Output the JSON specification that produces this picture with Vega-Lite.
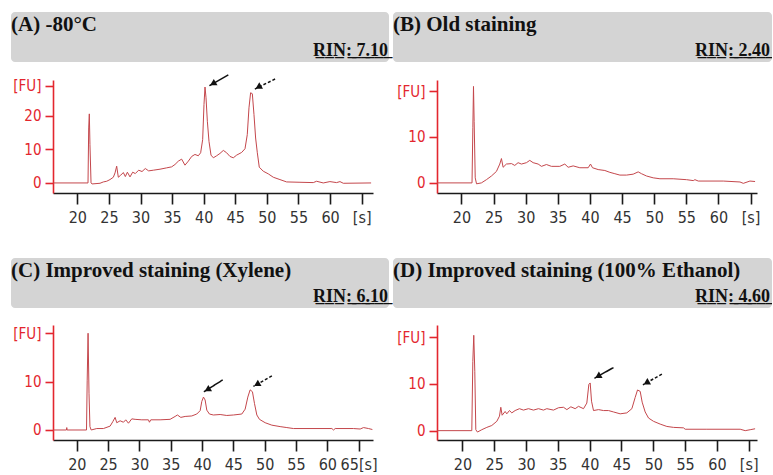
{
  "$schema": "https://vega.github.io/schema/vega-lite/v6.json",
  "padding": {"left": 11, "top": 12, "right": 0, "bottom": 0},
  "background": "white",
  "config": {
    "view": {"stroke": null},
    "axisX": {"title": null, "grid": false, "domainColor": "#1a1a1a", "tickColor": "#1a1a1a", "domainWidth": 1.6, "tickWidth": 1.6, "tickSize": 11, "labelPadding": 5, "labelFont": "DejaVu Sans Condensed, DejaVu Sans, sans-serif", "labelFontSize": 16, "labelColor": "#333333", "labelOverlap": false, "labelFlush": false},
    "axisY": {"title": null, "grid": false, "domainColor": "#e3262e", "tickColor": "#e3262e", "labelColor": "#e3262e", "domainWidth": 1.6, "tickWidth": 1.6, "tickSize": 8, "labelPadding": 4, "labelFont": "DejaVu Sans Condensed, DejaVu Sans, sans-serif", "labelFontSize": 15, "labelOverlap": false, "labelFlush": false},
    "title": {"anchor": "start", "frame": "group", "baseline": "alphabetic", "font": "Liberation Serif", "fontSize": 21, "fontWeight": "bold", "color": "#111111"}
  },
  "datasets": {
    "A": [
      {"t": 16.2, "fu": 0}, {"t": 21.69, "fu": 0}, {"t": 21.8, "fu": 16.4}, {"t": 21.9, "fu": 20.6}, {"t": 22.0, "fu": 11.4}, {"t": 22.17, "fu": 0}, {"t": 22.33, "fu": -0.3}, {"t": 23.59, "fu": -0.1}, {"t": 24.12, "fu": 0.3}, {"t": 24.65, "fu": 0.5}, {"t": 25.17, "fu": 1.0}, {"t": 25.7, "fu": 1.7}, {"t": 25.97, "fu": 3.0}, {"t": 26.23, "fu": 5.0}, {"t": 26.49, "fu": 1.7}, {"t": 26.86, "fu": 2.3}, {"t": 27.28, "fu": 3.1}, {"t": 27.6, "fu": 1.9}, {"t": 27.92, "fu": 3.2}, {"t": 28.34, "fu": 1.8}, {"t": 28.76, "fu": 3.2}, {"t": 29.18, "fu": 2.8}, {"t": 29.71, "fu": 3.8}, {"t": 30.24, "fu": 3.4}, {"t": 30.76, "fu": 4.3}, {"t": 31.29, "fu": 3.6}, {"t": 32.03, "fu": 3.8}, {"t": 33.09, "fu": 4.1}, {"t": 34.14, "fu": 4.5}, {"t": 34.93, "fu": 4.8}, {"t": 35.46, "fu": 5.5}, {"t": 35.99, "fu": 6.5}, {"t": 36.51, "fu": 7.1}, {"t": 37.04, "fu": 5.3}, {"t": 37.57, "fu": 6.5}, {"t": 38.1, "fu": 7.9}, {"t": 38.62, "fu": 8.5}, {"t": 39.15, "fu": 8.1}, {"t": 39.52, "fu": 9.0}, {"t": 39.84, "fu": 12.9}, {"t": 40.05, "fu": 23.4}, {"t": 40.21, "fu": 28.6}, {"t": 40.37, "fu": 25.4}, {"t": 40.58, "fu": 18.4}, {"t": 40.84, "fu": 12.4}, {"t": 41.16, "fu": 8.3}, {"t": 41.53, "fu": 7.5}, {"t": 42.05, "fu": 8.1}, {"t": 42.58, "fu": 8.8}, {"t": 43.11, "fu": 9.7}, {"t": 43.63, "fu": 9.0}, {"t": 44.16, "fu": 7.9}, {"t": 44.69, "fu": 7.5}, {"t": 45.22, "fu": 8.3}, {"t": 46.01, "fu": 9.1}, {"t": 46.54, "fu": 10.2}, {"t": 46.9, "fu": 14.4}, {"t": 47.17, "fu": 22.4}, {"t": 47.43, "fu": 26.9}, {"t": 47.7, "fu": 26.6}, {"t": 47.96, "fu": 20.4}, {"t": 48.22, "fu": 13.4}, {"t": 48.49, "fu": 9.0}, {"t": 48.8, "fu": 4.7}, {"t": 49.43, "fu": 3.5}, {"t": 50.23, "fu": 2.7}, {"t": 51.02, "fu": 1.7}, {"t": 52.07, "fu": 1.0}, {"t": 53.13, "fu": 0.3}, {"t": 55.24, "fu": 0.2}, {"t": 57.35, "fu": 0.1}, {"t": 57.87, "fu": 0.5}, {"t": 58.93, "fu": 0}, {"t": 59.98, "fu": 0.4}, {"t": 61.04, "fu": 0.1}, {"t": 61.57, "fu": 0.4}, {"t": 62.1, "fu": -0.1}, {"t": 66.5, "fu": 0}
    ],
    "B": [
      {"t": 16.2, "fu": 0}, {"t": 21.65, "fu": 0}, {"t": 21.78, "fu": 12.0}, {"t": 21.88, "fu": 21.0}, {"t": 21.98, "fu": 13.4}, {"t": 22.15, "fu": 1.1}, {"t": 22.35, "fu": -0.2}, {"t": 23.11, "fu": 0}, {"t": 23.89, "fu": 0.7}, {"t": 24.67, "fu": 1.5}, {"t": 25.45, "fu": 2.5}, {"t": 25.97, "fu": 4.1}, {"t": 26.23, "fu": 5.3}, {"t": 26.49, "fu": 3.4}, {"t": 27.0, "fu": 4.1}, {"t": 27.8, "fu": 4.2}, {"t": 28.3, "fu": 3.8}, {"t": 28.82, "fu": 4.4}, {"t": 29.34, "fu": 4.1}, {"t": 30.12, "fu": 4.4}, {"t": 30.64, "fu": 4.9}, {"t": 31.16, "fu": 4.4}, {"t": 31.94, "fu": 4.1}, {"t": 32.46, "fu": 3.6}, {"t": 33.23, "fu": 4.0}, {"t": 34.01, "fu": 3.6}, {"t": 35.31, "fu": 3.6}, {"t": 36.09, "fu": 4.1}, {"t": 36.61, "fu": 3.4}, {"t": 37.39, "fu": 3.7}, {"t": 38.43, "fu": 3.3}, {"t": 39.73, "fu": 3.3}, {"t": 40.09, "fu": 4.1}, {"t": 40.4, "fu": 3.3}, {"t": 41.28, "fu": 2.9}, {"t": 42.32, "fu": 2.7}, {"t": 43.1, "fu": 2.3}, {"t": 43.88, "fu": 2.0}, {"t": 44.66, "fu": 1.7}, {"t": 45.7, "fu": 1.7}, {"t": 46.73, "fu": 1.9}, {"t": 47.51, "fu": 2.4}, {"t": 48.03, "fu": 2.0}, {"t": 48.81, "fu": 1.5}, {"t": 49.85, "fu": 1.1}, {"t": 50.89, "fu": 0.9}, {"t": 52.96, "fu": 0.9}, {"t": 55.04, "fu": 0.7}, {"t": 56.08, "fu": 0.5}, {"t": 56.34, "fu": 0.7}, {"t": 56.86, "fu": 0.4}, {"t": 60.75, "fu": 0.4}, {"t": 63.35, "fu": 0.2}, {"t": 63.87, "fu": -0.1}, {"t": 64.9, "fu": 0.4}, {"t": 65.7, "fu": 0.3}
    ],
    "C": [
      {"t": 16.2, "fu": 0}, {"t": 18.35, "fu": 0}, {"t": 18.4, "fu": 0.5}, {"t": 18.45, "fu": 0}, {"t": 21.55, "fu": 0}, {"t": 21.66, "fu": 10.3}, {"t": 21.8, "fu": 20.0}, {"t": 21.95, "fu": 7.6}, {"t": 22.1, "fu": 0.7}, {"t": 22.3, "fu": 0}, {"t": 23.19, "fu": 0.3}, {"t": 24.25, "fu": 0.3}, {"t": 25.32, "fu": 0.8}, {"t": 25.74, "fu": 1.7}, {"t": 26.12, "fu": 2.6}, {"t": 26.38, "fu": 1.5}, {"t": 26.92, "fu": 1.9}, {"t": 27.45, "fu": 1.6}, {"t": 27.82, "fu": 2.1}, {"t": 28.25, "fu": 1.4}, {"t": 28.78, "fu": 2.3}, {"t": 29.31, "fu": 2.2}, {"t": 30.38, "fu": 2.1}, {"t": 31.44, "fu": 2.1}, {"t": 31.6, "fu": 1.6}, {"t": 31.81, "fu": 2.1}, {"t": 33.3, "fu": 2.1}, {"t": 34.9, "fu": 2.2}, {"t": 35.7, "fu": 2.8}, {"t": 36.07, "fu": 3.1}, {"t": 36.61, "fu": 2.6}, {"t": 37.3, "fu": 2.8}, {"t": 38.36, "fu": 2.9}, {"t": 39.16, "fu": 3.3}, {"t": 39.7, "fu": 4.0}, {"t": 39.96, "fu": 5.9}, {"t": 40.23, "fu": 6.8}, {"t": 40.49, "fu": 6.2}, {"t": 40.76, "fu": 4.1}, {"t": 41.18, "fu": 3.3}, {"t": 41.82, "fu": 3.1}, {"t": 42.89, "fu": 3.2}, {"t": 43.95, "fu": 3.0}, {"t": 45.02, "fu": 3.1}, {"t": 46.35, "fu": 3.3}, {"t": 46.88, "fu": 4.3}, {"t": 47.31, "fu": 6.8}, {"t": 47.68, "fu": 8.3}, {"t": 48.05, "fu": 7.9}, {"t": 48.37, "fu": 5.5}, {"t": 48.75, "fu": 3.1}, {"t": 49.17, "fu": 2.2}, {"t": 50.08, "fu": 1.5}, {"t": 51.14, "fu": 1.0}, {"t": 52.47, "fu": 0.7}, {"t": 53.54, "fu": 0.5}, {"t": 54.6, "fu": 0.3}, {"t": 60.73, "fu": 0.3}, {"t": 61.0, "fu": 0}, {"t": 61.26, "fu": 0.3}, {"t": 64.19, "fu": 0.3}, {"t": 65.25, "fu": 0.2}, {"t": 65.79, "fu": 0.5}, {"t": 66.58, "fu": 0.3}, {"t": 67.2, "fu": 0.1}
    ],
    "D": [
      {"t": 16.0, "fu": 0}, {"t": 21.47, "fu": 0}, {"t": 21.63, "fu": 14.8}, {"t": 21.78, "fu": 20.4}, {"t": 21.94, "fu": 12.7}, {"t": 22.1, "fu": 0.2}, {"t": 22.36, "fu": -0.3}, {"t": 23.04, "fu": 0.2}, {"t": 23.83, "fu": 0.7}, {"t": 24.61, "fu": 1.1}, {"t": 25.4, "fu": 2.0}, {"t": 25.82, "fu": 3.1}, {"t": 26.03, "fu": 5.0}, {"t": 26.24, "fu": 3.3}, {"t": 26.71, "fu": 4.1}, {"t": 26.97, "fu": 3.6}, {"t": 27.39, "fu": 4.3}, {"t": 27.76, "fu": 3.8}, {"t": 28.28, "fu": 4.3}, {"t": 28.96, "fu": 4.7}, {"t": 29.59, "fu": 4.4}, {"t": 30.38, "fu": 4.7}, {"t": 31.17, "fu": 4.4}, {"t": 31.95, "fu": 4.7}, {"t": 32.74, "fu": 4.4}, {"t": 33.26, "fu": 4.7}, {"t": 34.31, "fu": 4.4}, {"t": 35.1, "fu": 4.9}, {"t": 35.88, "fu": 5.0}, {"t": 36.41, "fu": 4.5}, {"t": 37.04, "fu": 5.1}, {"t": 37.72, "fu": 4.7}, {"t": 38.24, "fu": 5.2}, {"t": 39.03, "fu": 4.7}, {"t": 39.55, "fu": 5.9}, {"t": 39.87, "fu": 9.9}, {"t": 40.08, "fu": 10.2}, {"t": 40.29, "fu": 6.3}, {"t": 40.6, "fu": 4.3}, {"t": 41.39, "fu": 4.5}, {"t": 42.17, "fu": 4.3}, {"t": 42.96, "fu": 4.3}, {"t": 43.74, "fu": 4.0}, {"t": 44.79, "fu": 3.6}, {"t": 45.84, "fu": 3.8}, {"t": 46.63, "fu": 4.7}, {"t": 47.15, "fu": 7.1}, {"t": 47.52, "fu": 8.7}, {"t": 47.94, "fu": 8.4}, {"t": 48.25, "fu": 6.1}, {"t": 48.72, "fu": 4.0}, {"t": 49.25, "fu": 2.7}, {"t": 50.03, "fu": 2.0}, {"t": 51.08, "fu": 1.4}, {"t": 52.13, "fu": 0.9}, {"t": 53.18, "fu": 0.7}, {"t": 54.75, "fu": 0.6}, {"t": 55.01, "fu": 0.3}, {"t": 58.42, "fu": 0.3}, {"t": 63.66, "fu": 0.3}, {"t": 64.45, "fu": 0}, {"t": 65.23, "fu": 0.2}, {"t": 66.0, "fu": 0.4}
    ],
    "arrows": [
      {"panel": "A", "peak": "18S", "tx": 43.9, "ty": 32.2, "hx": 40.9, "hy": 29.0},
      {"panel": "A", "peak": "28S", "tx": 51.3, "ty": 31.0, "hx": 48.1, "hy": 28.0},
      {"panel": "C", "peak": "18S", "tx": 43.3, "ty": 10.35, "hx": 40.3, "hy": 7.9},
      {"panel": "C", "peak": "28S", "tx": 51.15, "ty": 11.2, "hx": 48.2, "hy": 9.0},
      {"panel": "D", "peak": "18S", "tx": 43.74, "ty": 13.5, "hx": 40.75, "hy": 11.2},
      {"panel": "D", "peak": "28S", "tx": 51.35, "ty": 12.1, "hx": 48.37, "hy": 9.8}
    ]
  },
  "spacing": 33,
  "vconcat": [
    {
      "spacing": 4,
      "hconcat": [
        {
          "spacing": 12,
          "vconcat": [
            {
              "width": 378, "height": 50,
              "view": {"fill": "#d4d4d4", "stroke": null, "cornerRadius": 4},
              "title": {"text": "(A) -80°C", "offset": -23},
              "data": {"values": [{"rin": "R\u0332I\u0332N\u0332:\u0332 \u03327\u0332.\u03321\u03320\u0332"}]},
              "mark": {"type": "text", "x": "width", "y": "height", "dx": -1, "dy": -6, "align": "right", "baseline": "alphabetic", "font": "Liberation Serif", "fontSize": 18, "fontWeight": "bold", "color": "#111111"},
              "encoding": {"text": {"field": "rin", "type": "nominal"}}
            },
            {
              "width": 362, "height": 113,
              "layer": [
                {
                  "data": {"name": "A"},
                  "mark": {"type": "line", "stroke": "#c4474c", "strokeWidth": 1},
                  "encoding": {
                    "x": {"field": "t", "type": "quantitative", "scale": {"domain": [16.15, 66.8], "range": [42, 362], "nice": false, "zero": false}, "axis": {"values": [20, 25, 30, 35, 40, 45, 50, 55, 60, 65], "labelExpr": "datum.value == 65 ? '[s]' : datum.label", "labelOverlap": false}},
                    "y": {"field": "fu", "type": "quantitative", "scale": {"domain": [-3, 30.7], "nice": false, "zero": false}, "axis": {"values": [0, 10, 20, 29], "offset": -42, "labelExpr": "datum.value == 29 ? '[FU]' : datum.label", "labelOverlap": false}}
                  }
                },
                {
                  "data": {"name": "arrows"},
                  "transform": [{"filter": "datum.panel === 'A'"}],
                  "mark": {"type": "rule", "color": "#111111", "strokeWidth": 1.5},
                  "encoding": {
                    "x": {"field": "tx", "type": "quantitative", "scale": {"domain": [16.15, 66.8], "range": [42, 362], "nice": false, "zero": false}, "axis": {"values": [20, 25, 30, 35, 40, 45, 50, 55, 60, 65], "labelExpr": "datum.value == 65 ? '[s]' : datum.label", "labelOverlap": false}},
                    "y": {"field": "ty", "type": "quantitative", "scale": {"domain": [-3, 30.7], "nice": false, "zero": false}, "axis": {"values": [0, 10, 20, 29], "offset": -42, "labelExpr": "datum.value == 29 ? '[FU]' : datum.label", "labelOverlap": false}},
                    "x2": {"field": "hx"}, "y2": {"field": "hy"},
                    "strokeDash": {"field": "peak", "type": "nominal", "scale": {"domain": ["18S", "28S"], "range": [[1, 0], [3, 2]]}, "legend": null}
                  }
                },
                {
                  "data": {"name": "arrows"},
                  "transform": [{"filter": "datum.panel === 'A'"}],
                  "mark": {"type": "point", "shape": "triangle-up", "filled": true, "color": "#111111", "opacity": 1, "angle": 240, "size": 55, "xOffset": 3.5, "yOffset": -2},
                  "encoding": {
                    "x": {"field": "hx", "type": "quantitative", "scale": {"domain": [16.15, 66.8], "range": [42, 362], "nice": false, "zero": false}, "axis": {"values": [20, 25, 30, 35, 40, 45, 50, 55, 60, 65], "labelExpr": "datum.value == 65 ? '[s]' : datum.label", "labelOverlap": false}},
                    "y": {"field": "hy", "type": "quantitative", "scale": {"domain": [-3, 30.7], "nice": false, "zero": false}, "axis": {"values": [0, 10, 20, 29], "offset": -42, "labelExpr": "datum.value == 29 ? '[FU]' : datum.label", "labelOverlap": false}}
                  }
                }
              ]
            }
          ]
        },
        {
          "spacing": 18,
          "vconcat": [
            {
              "width": 379, "height": 50,
              "view": {"fill": "#d4d4d4", "stroke": null, "cornerRadius": 4},
              "title": {"text": "(B) Old staining", "offset": -23},
              "data": {"values": [{"rin": "R\u0332I\u0332N\u0332:\u0332 \u03322\u0332.\u03324\u03320\u0332"}]},
              "mark": {"type": "text", "x": "width", "y": "height", "dx": -2, "dy": -6, "align": "right", "baseline": "alphabetic", "font": "Liberation Serif", "fontSize": 18, "fontWeight": "bold", "color": "#111111"},
              "encoding": {"text": {"field": "rin", "type": "nominal"}}
            },
            {
              "width": 364, "height": 113,
              "data": {"name": "B"},
              "mark": {"type": "line", "stroke": "#c4474c", "strokeWidth": 1},
              "encoding": {
                "x": {"field": "t", "type": "quantitative", "scale": {"domain": [16.2, 66.0], "range": [44, 364], "nice": false, "zero": false}, "axis": {"values": [20, 25, 30, 35, 40, 45, 50, 55, 60, 65], "labelExpr": "datum.value == 65 ? '[s]' : datum.label", "labelOverlap": false}},
                "y": {"field": "fu", "type": "quantitative", "scale": {"domain": [-2.2, 22.4], "nice": false, "zero": false}, "axis": {"values": [0, 10, 20], "offset": -44, "labelExpr": "datum.value == 20 ? '[FU]' : datum.label", "labelOverlap": false}}
              }
            }
          ]
        }
      ]
    },
    {
      "spacing": 4,
      "hconcat": [
        {
          "spacing": 17,
          "vconcat": [
            {
              "width": 378, "height": 50,
              "view": {"fill": "#d4d4d4", "stroke": null, "cornerRadius": 4},
              "title": {"text": "(C) Improved staining (Xylene)", "offset": -23},
              "data": {"values": [{"rin": "R\u0332I\u0332N\u0332:\u0332 \u03326\u0332.\u03321\u03320\u0332"}]},
              "mark": {"type": "text", "x": "width", "y": "height", "dx": -1, "dy": -6, "align": "right", "baseline": "alphabetic", "font": "Liberation Serif", "fontSize": 18, "fontWeight": "bold", "color": "#111111"},
              "encoding": {"text": {"field": "rin", "type": "nominal"}}
            },
            {
              "width": 362, "height": 115,
              "layer": [
                {
                  "data": {"name": "C"},
                  "mark": {"type": "line", "stroke": "#c4474c", "strokeWidth": 1},
                  "encoding": {
                    "x": {"field": "t", "type": "quantitative", "scale": {"domain": [16.2, 67.3], "range": [42, 362], "nice": false, "zero": false}, "axis": {"values": [20, 25, 30, 35, 40, 45, 50, 55, 60, 65], "labelExpr": "datum.value == 65 ? '65[s]' : datum.label", "labelOverlap": false}},
                    "y": {"field": "fu", "type": "quantitative", "scale": {"domain": [-2.07, 21.7], "nice": false, "zero": false}, "axis": {"values": [0, 10, 20], "offset": -42, "labelExpr": "datum.value == 20 ? '[FU]' : datum.label", "labelOverlap": false}}
                  }
                },
                {
                  "data": {"name": "arrows"},
                  "transform": [{"filter": "datum.panel === 'C'"}],
                  "mark": {"type": "rule", "color": "#111111", "strokeWidth": 1.5},
                  "encoding": {
                    "x": {"field": "tx", "type": "quantitative", "scale": {"domain": [16.2, 67.3], "range": [42, 362], "nice": false, "zero": false}, "axis": {"values": [20, 25, 30, 35, 40, 45, 50, 55, 60, 65], "labelExpr": "datum.value == 65 ? '65[s]' : datum.label", "labelOverlap": false}},
                    "y": {"field": "ty", "type": "quantitative", "scale": {"domain": [-2.07, 21.7], "nice": false, "zero": false}, "axis": {"values": [0, 10, 20], "offset": -42, "labelExpr": "datum.value == 20 ? '[FU]' : datum.label", "labelOverlap": false}},
                    "x2": {"field": "hx"}, "y2": {"field": "hy"},
                    "strokeDash": {"field": "peak", "type": "nominal", "scale": {"domain": ["18S", "28S"], "range": [[1, 0], [3, 2]]}, "legend": null}
                  }
                },
                {
                  "data": {"name": "arrows"},
                  "transform": [{"filter": "datum.panel === 'C'"}],
                  "mark": {"type": "point", "shape": "triangle-up", "filled": true, "color": "#111111", "opacity": 1, "angle": 240, "size": 55, "xOffset": 3.5, "yOffset": -2},
                  "encoding": {
                    "x": {"field": "hx", "type": "quantitative", "scale": {"domain": [16.2, 67.3], "range": [42, 362], "nice": false, "zero": false}, "axis": {"values": [20, 25, 30, 35, 40, 45, 50, 55, 60, 65], "labelExpr": "datum.value == 65 ? '65[s]' : datum.label", "labelOverlap": false}},
                    "y": {"field": "hy", "type": "quantitative", "scale": {"domain": [-2.07, 21.7], "nice": false, "zero": false}, "axis": {"values": [0, 10, 20], "offset": -42, "labelExpr": "datum.value == 20 ? '[FU]' : datum.label", "labelOverlap": false}}
                  }
                }
              ]
            }
          ]
        },
        {
          "spacing": 17,
          "vconcat": [
            {
              "width": 379, "height": 50,
              "view": {"fill": "#d4d4d4", "stroke": null, "cornerRadius": 4},
              "title": {"text": "(D) Improved staining (100% Ethanol)", "offset": -23},
              "data": {"values": [{"rin": "R\u0332I\u0332N\u0332:\u0332 \u03324\u0332.\u03326\u03320\u0332"}]},
              "mark": {"type": "text", "x": "width", "y": "height", "dx": -2, "dy": -6, "align": "right", "baseline": "alphabetic", "font": "Liberation Serif", "fontSize": 18, "fontWeight": "bold", "color": "#111111"},
              "encoding": {"text": {"field": "rin", "type": "nominal"}}
            },
            {
              "width": 364, "height": 115,
              "layer": [
                {
                  "data": {"name": "D"},
                  "mark": {"type": "line", "stroke": "#c4474c", "strokeWidth": 1},
                  "encoding": {
                    "x": {"field": "t", "type": "quantitative", "scale": {"domain": [16.0, 66.3], "range": [44, 364], "nice": false, "zero": false}, "axis": {"values": [20, 25, 30, 35, 40, 45, 50, 55, 60, 65], "labelExpr": "datum.value == 65 ? '[s]' : datum.label", "labelOverlap": false}},
                    "y": {"field": "fu", "type": "quantitative", "scale": {"domain": [-2.0, 22.6], "nice": false, "zero": false}, "axis": {"values": [0, 10, 20], "offset": -44, "labelExpr": "datum.value == 20 ? '[FU]' : datum.label", "labelOverlap": false}}
                  }
                },
                {
                  "data": {"name": "arrows"},
                  "transform": [{"filter": "datum.panel === 'D'"}],
                  "mark": {"type": "rule", "color": "#111111", "strokeWidth": 1.5},
                  "encoding": {
                    "x": {"field": "tx", "type": "quantitative", "scale": {"domain": [16.0, 66.3], "range": [44, 364], "nice": false, "zero": false}, "axis": {"values": [20, 25, 30, 35, 40, 45, 50, 55, 60, 65], "labelExpr": "datum.value == 65 ? '[s]' : datum.label", "labelOverlap": false}},
                    "y": {"field": "ty", "type": "quantitative", "scale": {"domain": [-2.0, 22.6], "nice": false, "zero": false}, "axis": {"values": [0, 10, 20], "offset": -44, "labelExpr": "datum.value == 20 ? '[FU]' : datum.label", "labelOverlap": false}},
                    "x2": {"field": "hx"}, "y2": {"field": "hy"},
                    "strokeDash": {"field": "peak", "type": "nominal", "scale": {"domain": ["18S", "28S"], "range": [[1, 0], [3, 2]]}, "legend": null}
                  }
                },
                {
                  "data": {"name": "arrows"},
                  "transform": [{"filter": "datum.panel === 'D'"}],
                  "mark": {"type": "point", "shape": "triangle-up", "filled": true, "color": "#111111", "opacity": 1, "angle": 240, "size": 55, "xOffset": 3.5, "yOffset": -2},
                  "encoding": {
                    "x": {"field": "hx", "type": "quantitative", "scale": {"domain": [16.0, 66.3], "range": [44, 364], "nice": false, "zero": false}, "axis": {"values": [20, 25, 30, 35, 40, 45, 50, 55, 60, 65], "labelExpr": "datum.value == 65 ? '[s]' : datum.label", "labelOverlap": false}},
                    "y": {"field": "hy", "type": "quantitative", "scale": {"domain": [-2.0, 22.6], "nice": false, "zero": false}, "axis": {"values": [0, 10, 20], "offset": -44, "labelExpr": "datum.value == 20 ? '[FU]' : datum.label", "labelOverlap": false}}
                  }
                }
              ]
            }
          ]
        }
      ]
    }
  ]
}
